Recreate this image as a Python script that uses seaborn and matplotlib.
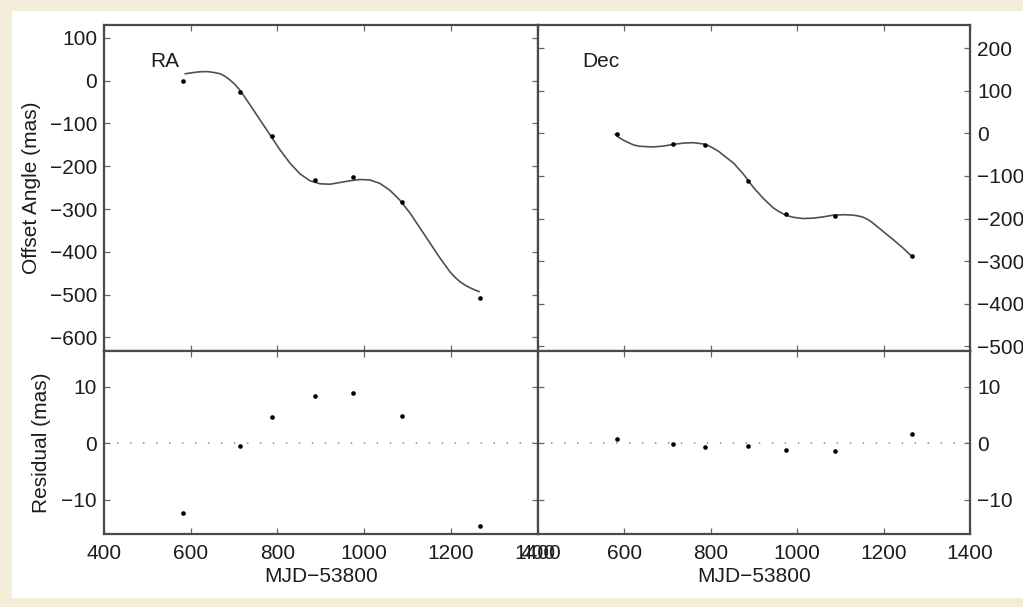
import numpy as np
import pandas as pd
import matplotlib
matplotlib.use("Agg")
import matplotlib.pyplot as plt
from matplotlib.patches import Rectangle
import seaborn as sns

# Observation epochs (MJD - 53800)
epochs = [583, 713, 788, 887, 975, 1087, 1266]

# Measured offsets (mas)
ra_obs = [-1, -26, -129, -231, -226, -283, -507]
dec_obs = [-2, -26, -27, -111, -190, -194, -288]

# Post-fit residuals (mas)
ra_resid = [-12.3, -0.5, 4.6, 8.3, 8.9, 4.9, -14.6]
dec_resid = [0.8, -0.1, -0.7, -0.5, -1.2, -1.4, 1.6]

# Best-fit astrometric model, sampled along the time axis
ra_model_t = [587, 600, 614, 627, 640, 654, 668, 679, 690, 702, 714, 737, 760,
              783, 806, 829, 852, 875, 898, 921, 944, 967, 990, 1013, 1036,
              1059, 1082, 1106, 1129, 1152, 1175, 1198, 1210, 1221, 1233,
              1244, 1255, 1265]
ra_model = [16, 18, 20, 21, 21, 19, 16, 10, 2, -9, -23, -57, -92,
            -127, -162, -193, -218, -234, -241, -242, -238, -234, -231, -232,
            -240, -256, -279, -310, -345, -380, -415, -447, -460, -470, -478,
            -484, -489, -493]

dec_model_t = [579, 588, 598, 610, 621, 633, 644, 667, 691, 714, 737, 760, 783,
               795, 806, 818, 829, 853, 876, 899, 922, 945, 957, 968, 980, 991,
               1014, 1038, 1061, 1084, 1107, 1130, 1142, 1153, 1165, 1176, 1200,
               1223, 1246, 1267]
dec_model = [-2, -10, -16, -22, -27, -30, -31, -32, -30, -26, -23, -22, -25,
             -29, -35, -42, -51, -70, -96, -127, -153, -175, -183, -189, -194,
             -197, -200, -199, -196, -192, -191, -192, -194, -197, -203, -211,
             -231, -250, -270, -290]

x_ticks = [400, 600, 800, 1000, 1200, 1400]
ra_ticks = [100, 0, -100, -200, -300, -400, -500, -600]
dec_ticks = [200, 100, 0, -100, -200, -300, -400, -500]
resid_ticks = [10, 0, -10]

obs = pd.DataFrame({"mjd": epochs, "ra": ra_obs, "dec": dec_obs,
                    "ra_res": ra_resid, "dec_res": dec_resid})
ra_fit = pd.DataFrame({"mjd": ra_model_t, "ra": ra_model})
dec_fit = pd.DataFrame({"mjd": dec_model_t, "dec": dec_model})

sns.set_theme(style="ticks")
plt.rcParams["font.family"] = ["Liberation Sans", "DejaVu Sans"]
plt.rcParams["axes.unicode_minus"] = True
plt.rcParams["lines.solid_joinstyle"] = "round"

paper = "#f3ecd6"
spine_col = "#4a4a4a"
text_col = "#1c1c1c"

W, H = 1023, 607
fig = plt.figure(figsize=(W / 100, H / 100), dpi=100, facecolor=paper)
fig.patches.append(Rectangle((12 / W, 1 - 598 / H), (W - 12) / W, (598 - 11) / H,
                             transform=fig.transFigure, facecolor="white",
                             edgecolor="none", zorder=-10))


def box(x0, y0, x1, y1):
    return [x0 / W, 1 - y1 / H, (x1 - x0) / W, (y1 - y0) / H]


ax_ra = fig.add_axes(box(104, 25, 537.7, 350.7))
ax_dec = fig.add_axes(box(537.7, 25, 970, 350.7))
ax_rr = fig.add_axes(box(104, 350.7, 537.7, 534))
ax_dr = fig.add_axes(box(537.7, 350.7, 970, 534))

line_kw = dict(color="#505050", linewidth=1.2, estimator=None)
dot_kw = dict(color="black", s=11, linewidth=0, zorder=3)

sns.lineplot(data=ra_fit, x="mjd", y="ra", ax=ax_ra, **line_kw)
sns.scatterplot(data=obs, x="mjd", y="ra", ax=ax_ra, **dot_kw)
sns.lineplot(data=dec_fit, x="mjd", y="dec", ax=ax_dec, **line_kw)
sns.scatterplot(data=obs, x="mjd", y="dec", ax=ax_dec, **dot_kw)

for ax, col in [(ax_rr, "ra_res"), (ax_dr, "dec_res")]:
    ax.axhline(0, color="#8a8a8a", linewidth=1.1, linestyle=(0, (1, 7.5)), zorder=1)
    sns.scatterplot(data=obs, x="mjd", y=col, ax=ax, **dot_kw)

ax_ra.set_ylim(-631, 130)
ax_dec.set_ylim(-510, 254)
ax_rr.set_ylim(-16.1, 16.4)
ax_dr.set_ylim(-16.1, 16.4)
ax_ra.set_yticks(ra_ticks)
ax_dec.set_yticks(dec_ticks)
ax_rr.set_yticks(resid_ticks)
ax_dr.set_yticks(resid_ticks)

for ax in (ax_ra, ax_dec, ax_rr, ax_dr):
    ax.set_xlim(400, 1400)
    ax.set_xticks(x_ticks)
    ax.set_facecolor("white")
    for s in ax.spines.values():
        s.set_color(spine_col)
        s.set_linewidth(1.6)
    ax.tick_params(direction="in", length=4, width=0.9, color="#666666",
                   labelsize=15, labelcolor=text_col, pad=5,
                   top=True, bottom=True, left=True, right=True)
    ax.set_xlabel("")
    ax.set_ylabel("")

ax_ra.tick_params(labelbottom=False)
ax_dec.tick_params(labelbottom=False, labelleft=False, labelright=True)
ax_dr.tick_params(labelleft=False, labelright=True)
ax_rr.tick_params(axis="x", pad=7)
ax_dr.tick_params(axis="x", pad=7)

ax_ra.set_ylabel("Offset Angle (mas)", fontsize=15, color=text_col)
ax_rr.set_ylabel("Residual (mas)", fontsize=15, color=text_col)
ax_ra.yaxis.set_label_coords(-0.145, 0.5)
ax_rr.yaxis.set_label_coords(-0.122, 0.5)
for ax in (ax_rr, ax_dr):
    ax.set_xlabel("MJD\u221253800", fontsize=15, color=text_col, labelpad=3)

ax_ra.text(0.106, 0.889, "RA", transform=ax_ra.transAxes, fontsize=15,
           color=text_col, ha="left", va="center")
ax_dec.text(0.102, 0.889, "Dec", transform=ax_dec.transAxes, fontsize=15,
            color=text_col, ha="left", va="center")

fig.savefig("out.png", dpi=100, facecolor=paper)
